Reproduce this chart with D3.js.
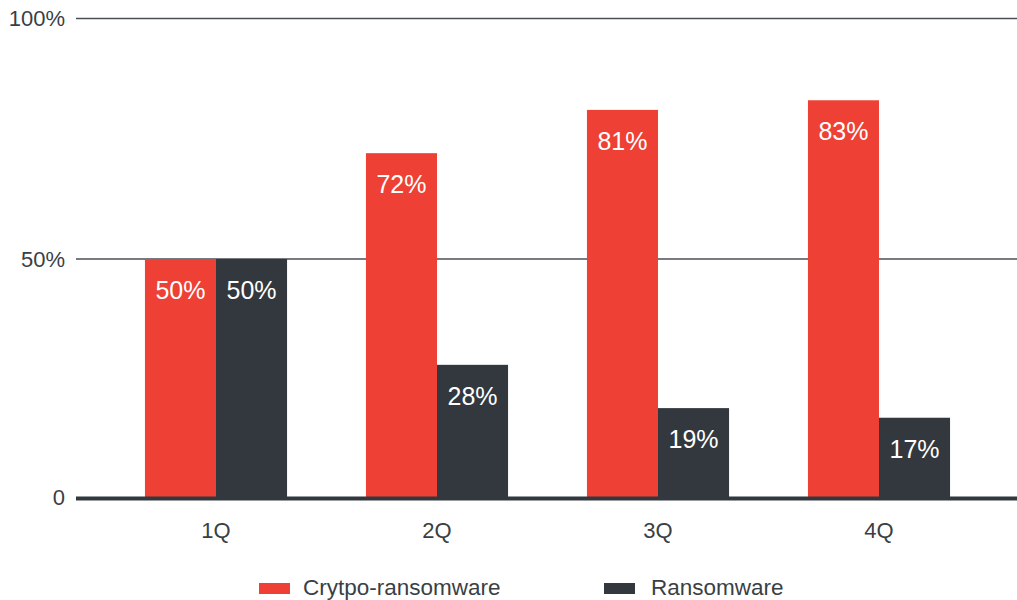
<!DOCTYPE html>
<html>
<head>
<meta charset="utf-8">
<script src="https://cdn.jsdelivr.net/npm/d3@7"></script>
<style>
  html, body { margin: 0; padding: 0; background: #fff; }
  svg { display: block; font-family: "Liberation Sans", Arial, Helvetica, sans-serif; }
</style>
</head>
<body>
<svg id="chart" width="1017" height="600"></svg>
<script>
// Share of ransomware detections by quarter
const quarters = ["1Q", "2Q", "3Q", "4Q"];
const seriesNames = ["Crytpo-ransomware", "Ransomware"];
const cryptoShare = [50, 72, 81, 83];
const ransomShare = [50, 28, 19, 17];
const yTicks = [0, 50, 100];
const yTickLabels = ["0", "50%", "100%"];

const colors = { "Crytpo-ransomware": "#ee4035", "Ransomware": "#32383e" };
const textColor = "#3a3f45";

const svg = d3.select("#chart");
const plotLeft = 76, plotRight = 1017, plotTop = 18.5, plotBottom = 499.5;

const x = d3.scaleBand()
  .domain(quarters)
  .range([105.5, 989.5])
  .paddingInner(0.357)
  .paddingOuter(0.1785);

const xs = d3.scaleBand()
  .domain(seriesNames)
  .range([0, x.bandwidth()]);

const y = d3.scaleLinear().domain([0, 100]).range([plotBottom, plotTop]);

const rows = quarters.map((q, i) => ({
  q,
  values: [
    { name: seriesNames[0], v: cryptoShare[i] },
    { name: seriesNames[1], v: ransomShare[i] }
  ]
}));

// value axis labels
const yAxis = d3.axisLeft(y)
  .tickValues(yTicks)
  .tickSize(0)
  .tickFormat((d, i) => yTickLabels[i]);

const gy = svg.append("g").attr("transform", `translate(${plotLeft},0)`).call(yAxis);
gy.select(".domain").remove();
gy.selectAll("text")
  .attr("x", -11)
  .attr("dy", d => d === 0 ? "0.22em" : "0.32em")
  .attr("fill", textColor)
  .style("font-size", "22px")
  .style("font-family", "'Liberation Sans', Arial, sans-serif");

// horizontal gridlines (zero is drawn later as the baseline)
svg.append("g").selectAll("line")
  .data(yTicks.filter(d => d !== 0))
  .join("line")
  .attr("x1", plotLeft).attr("x2", plotRight)
  .attr("y1", d => y(d)).attr("y2", d => y(d))
  .attr("stroke", "#4a4f55")
  .attr("stroke-width", 1.5);

// bars
const groups = svg.append("g").selectAll("g")
  .data(rows)
  .join("g")
  .attr("transform", d => `translate(${x(d.q)},0)`);

groups.selectAll("rect")
  .data(d => d.values)
  .join("rect")
  .attr("x", d => xs(d.name))
  .attr("width", xs.bandwidth())
  .attr("y", d => y(d.v))
  .attr("height", d => y(0) - y(d.v))
  .attr("fill", d => colors[d.name]);

groups.selectAll("text")
  .data(d => d.values)
  .join("text")
  .attr("x", d => xs(d.name) + xs.bandwidth() / 2)
  .attr("y", d => y(d.v) + 40)
  .attr("text-anchor", "middle")
  .attr("fill", "#ffffff")
  .style("font-size", "25px")
  .text(d => d.v + "%");

// zero baseline
svg.append("line")
  .attr("x1", plotLeft).attr("x2", plotRight)
  .attr("y1", y(0) - 1).attr("y2", y(0) - 1)
  .attr("stroke", "#32383e")
  .attr("stroke-width", 4);

// category axis
const xAxis = d3.axisBottom(x).tickSize(0);
const gx = svg.append("g").attr("transform", `translate(0,${y(0)})`).call(xAxis);
gx.select(".domain").remove();
gx.selectAll("text")
  .attr("y", 38)
  .attr("dy", 0)
  .attr("fill", textColor)
  .style("font-size", "22px")
  .style("font-family", "'Liberation Sans', Arial, sans-serif");

// legend
const legendX = [259, 604];
const legend = svg.append("g").selectAll("g")
  .data(seriesNames)
  .join("g")
  .attr("transform", (d, i) => `translate(${legendX[i]},583)`);

legend.append("rect")
  .attr("width", 31).attr("height", 11)
  .attr("fill", d => colors[d]);

legend.append("text")
  .attr("x", (d, i) => i === 0 ? 44 : 47).attr("y", 12)
  .attr("fill", textColor)
  .style("font-size", "22.5px")
  .text(d => d);
</script>
</body>
</html>
